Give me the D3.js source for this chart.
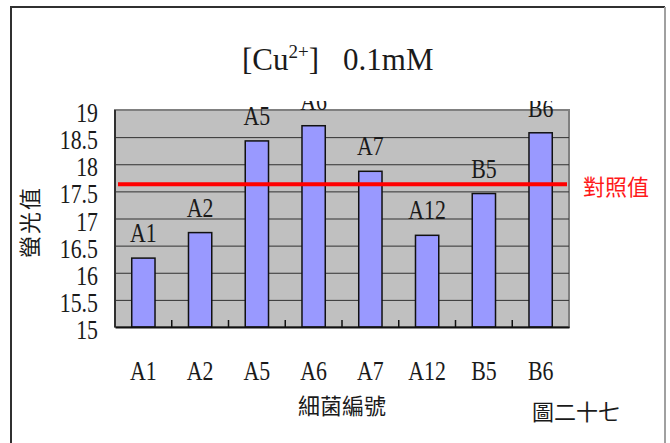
<!DOCTYPE html>
<html>
<head>
<meta charset="utf-8">
<script src="https://cdn.jsdelivr.net/npm/d3@7"></script>
<style>
  html, body { margin: 0; padding: 0; background: #fff; }
  svg { display: block; }
  .num { font-family: "Liberation Serif", "Times New Roman", serif; fill: #1a1a1a; }
  .cjk { font-family: "Noto Sans CJK TC", "Noto Sans CJK SC", sans-serif; fill: #1a1a1a; }
</style>
</head>
<body>
<script>
// Fluorescence of each strain under 0.1 mM Cu2+, with the control level
const categories = ["A1", "A2", "A5", "A6", "A7", "A12", "B5", "B6"];
const values = [16.27, 16.74, 18.43, 18.71, 17.87, 16.69, 17.46, 18.58];
const controlValue = 17.63;
const yTickValues = [15, 15.5, 16, 16.5, 17, 17.5, 18, 18.5, 19];
const yTickLabels = ["15", "15.5", "16", "16.5", "17", "17.5", "18", "18.5", "19"];

const W = 670, H = 443;
const plot = { left: 115, right: 569, top: 110, bottom: 327 };
const numSize = 28, numSqueeze = 0.78;

const svg = d3.select("body").append("svg")
  .attr("width", W).attr("height", H);

svg.append("rect").attr("width", W).attr("height", H).attr("fill", "#fff");

// outer frame: dark left/top, light right, open at the bottom
svg.append("path").attr("d", `M11,${H} V7 H665`)
  .attr("fill", "none").attr("stroke", "#303030").attr("stroke-width", 2);
svg.append("line").attr("x1", 665).attr("x2", 665).attr("y1", 7).attr("y2", H)
  .attr("stroke", "#a0a0a0").attr("stroke-width", 2);

const x = d3.scaleBand().domain(categories).range([plot.left, plot.right]).padding(0);
const y = d3.scaleLinear().domain([15, 19]).range([plot.bottom, plot.top]);
const barW = x.step() * 0.41;

// plot area
svg.append("rect")
  .attr("x", plot.left).attr("y", plot.top)
  .attr("width", plot.right - plot.left).attr("height", plot.bottom - plot.top)
  .attr("fill", "#c0c0c0").attr("stroke", "#808080").attr("stroke-width", 2);

// horizontal gridlines
const yAxis = d3.axisLeft(y).tickValues(yTickValues)
  .tickSize(-(plot.right - plot.left)).tickFormat("");
const gy = svg.append("g").attr("transform", `translate(${plot.left},0)`).call(yAxis);
gy.select(".domain").remove();
gy.selectAll(".tick line").attr("stroke", "#303030").attr("stroke-width", 1)
  .filter(d => d === 15 || d === 19).remove();

// bars
svg.append("g").selectAll("rect").data(categories).join("rect")
  .attr("x", d => x(d) + (x.step() - barW) / 2)
  .attr("y", (d, i) => y(values[i]))
  .attr("width", barW)
  .attr("height", (d, i) => y(15) - y(values[i]))
  .attr("fill", "#9999ff").attr("stroke", "#111").attr("stroke-width", 1.5);

// left axis line
svg.append("line").attr("x1", plot.left).attr("x2", plot.left)
  .attr("y1", plot.top).attr("y2", plot.bottom)
  .attr("stroke", "#303030").attr("stroke-width", 2);

// bottom axis with inward ticks between categories
const xAxis = d3.axisBottom(x).tickSize(0).tickFormat("");
const gx = svg.append("g").attr("transform", `translate(0,${plot.bottom})`).call(xAxis);
gx.select(".domain").attr("stroke", "#111").attr("stroke-width", 2);
gx.selectAll(".tick").remove();
gx.selectAll(".sep").data(categories.slice(1)).join("line")
  .attr("class", "sep")
  .attr("x1", d => x(d)).attr("x2", d => x(d))
  .attr("y1", 0).attr("y2", -7)
  .attr("stroke", "#111").attr("stroke-width", 1.5);

// control level
svg.append("line")
  .attr("x1", plot.left + 3).attr("x2", plot.right - 2)
  .attr("y1", y(controlValue)).attr("y2", y(controlValue))
  .attr("stroke", "#ff0000").attr("stroke-width", 4);

svg.append("text").attr("class", "cjk")
  .attr("x", 583).attr("y", y(controlValue) + 5)
  .attr("dominant-baseline", "middle")
  .attr("font-size", 22).style("fill", "#ff1a1a")
  .text("對照值");

// condensed serif text helper
function numText(g, xPos, yPos, str, anchor) {
  g.append("text").attr("class", "num")
    .attr("transform", `translate(${xPos},${yPos}) scale(${numSqueeze},1)`)
    .attr("text-anchor", anchor)
    .attr("font-size", numSize)
    .text(str);
}

// y tick labels
const yl = svg.append("g");
yTickValues.forEach((v, i) => numText(yl, 98, y(v) + 12, yTickLabels[i], "end"));

// category labels under the axis
const xl = svg.append("g");
categories.forEach(c => numText(xl, x(c) + x.step() / 2, 380, c, "middle"));

// strain labels above bars, clipped just above the plot
svg.append("clipPath").attr("id", "lblClip")
  .append("rect").attr("x", 0).attr("y", plot.top - 9).attr("width", W).attr("height", H);
const bl = svg.append("g").attr("clip-path", "url(#lblClip)");
categories.forEach((c, i) => numText(bl, x(c) + x.step() / 2, y(values[i]) - 16, c, "middle"));

// title
const title = svg.append("text").attr("class", "num")
  .attr("x", 242).attr("y", 70).attr("font-size", 31);
title.append("tspan").text("[Cu");
title.append("tspan").attr("font-size", 19).attr("dy", -12).text("2+");
title.append("tspan").attr("dy", 12).text("]");
title.append("tspan").attr("dx", 24).text("0.1mM");

// axis titles
svg.append("text").attr("class", "cjk")
  .attr("transform", `translate(32,222) rotate(-90)`)
  .attr("text-anchor", "middle").attr("dominant-baseline", "middle")
  .attr("font-size", 22).attr("letter-spacing", 2)
  .text("螢光值");

svg.append("text").attr("class", "cjk")
  .attr("x", (plot.left + plot.right) / 2).attr("y", 408)
  .attr("text-anchor", "middle").attr("dominant-baseline", "middle")
  .attr("font-size", 22)
  .text("細菌編號");

svg.append("text").attr("class", "cjk")
  .attr("x", 576).attr("y", 414)
  .attr("text-anchor", "middle").attr("dominant-baseline", "middle")
  .attr("font-size", 22)
  .text("圖二十七");
</script>
</body>
</html>
